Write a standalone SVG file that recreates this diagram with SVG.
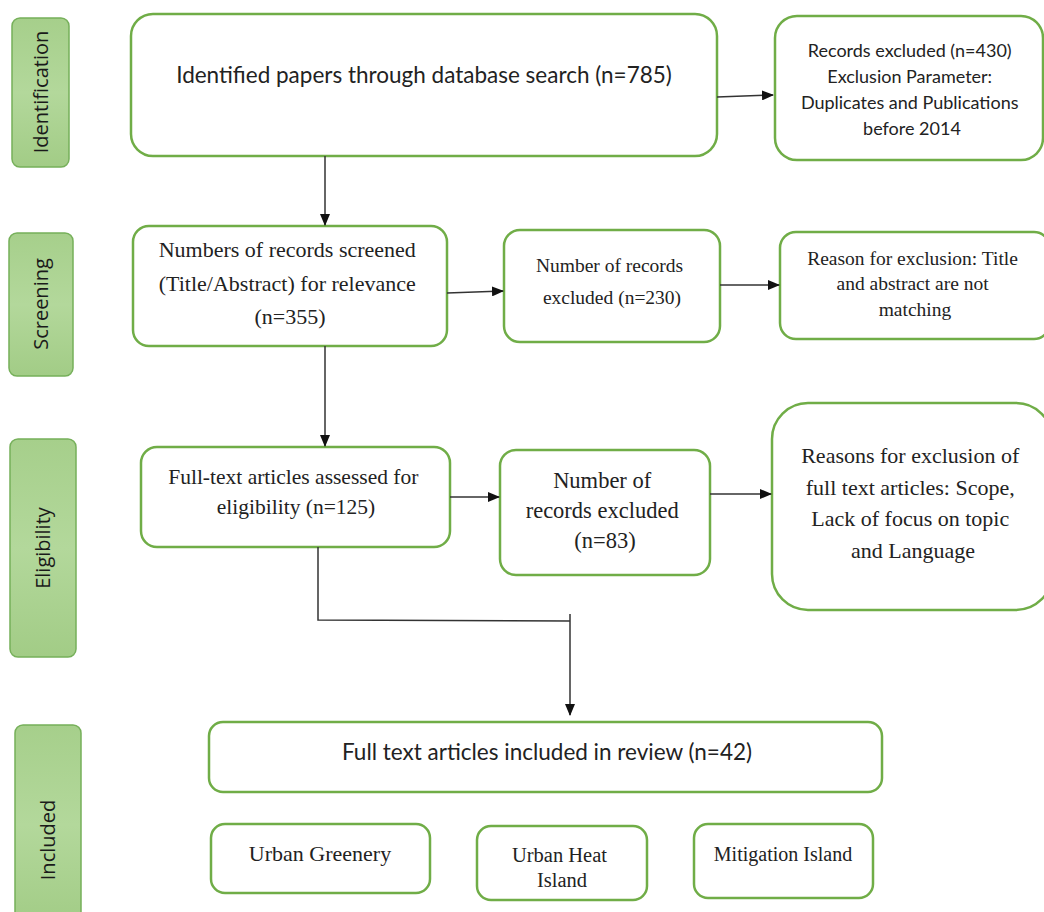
<svg xmlns="http://www.w3.org/2000/svg" width="1044" height="912" viewBox="0 0 1044 912">
<defs>
<linearGradient id="phaseFill" x1="0" y1="0" x2="0" y2="1">
<stop offset="0" stop-color="#a6cf8b"/>
<stop offset="0.5" stop-color="#b3d89b"/>
<stop offset="1" stop-color="#a2cc86"/>
</linearGradient>
<marker id="arrow" markerWidth="12" markerHeight="10" refX="11" refY="5" orient="auto" markerUnits="userSpaceOnUse">
<path d="M0,0 L12,5 L0,10 Z" fill="#111"/>
</marker>
</defs>
<style>
.phase{fill:url(#phaseFill);stroke:#76b05a;stroke-width:1.5}
.box{fill:#fff;stroke:#70ad47;stroke-width:2.5}
.plabel{font-family:"Open Sans","Liberation Sans",sans-serif;font-size:20px;fill:#1a1a1a;text-anchor:middle}
.sans{font-family:Lato,"Liberation Sans",sans-serif;fill:#222;text-anchor:middle}
.serif{font-family:"Liberation Serif","Times New Roman",serif;fill:#222;text-anchor:middle}
.conn{fill:none;stroke:#333;stroke-width:1.5}
</style>
<rect width="1044" height="912" fill="#fff"/>

<g id="phase-identification">
<rect class="phase" x="12" y="18" width="57" height="149" rx="8"/>
<text class="plabel" transform="translate(48,92) rotate(-90)">Identification</text>
</g>
<g id="phase-screening">
<rect class="phase" x="9" y="233" width="64" height="143" rx="8"/>
<text class="plabel" transform="translate(48,304) rotate(-90)">Screening</text>
</g>
<g id="phase-eligibility">
<rect class="phase" x="10" y="439" width="66" height="218" rx="8"/>
<text class="plabel" transform="translate(50,548) rotate(-90)">Eligibility</text>
</g>
<g id="phase-included">
<rect class="phase" x="15" y="725" width="66" height="200" rx="8"/>
<text class="plabel" transform="translate(55,840) rotate(-90)">Included</text>
</g>

<g id="identified">
<rect class="box" x="131" y="14" width="586" height="142" rx="22"/>
<text class="sans" x="424" y="83" font-size="22.5">Identified papers through database search (n=785)</text>
</g>
<g id="records-excluded-430">
<rect class="box" x="775" y="16" width="268" height="144" rx="22"/>
<text class="sans" font-size="18">
<tspan x="912" y="57">Records excluded (n=430)</tspan>
<tspan x="912" y="83">Exclusion Parameter:</tspan>
<tspan x="912" y="109">Duplicates and Publications</tspan>
<tspan x="912" y="135">before 2014</tspan>
</text>
</g>

<g id="screened">
<rect class="box" x="133" y="226" width="314" height="120" rx="16"/>
<text class="serif" font-size="22">
<tspan x="290" y="257">Numbers of records screened</tspan>
<tspan x="290" y="291">(Title/Abstract) for relevance</tspan>
<tspan x="290" y="324">(n=355)</tspan>
</text>
</g>
<g id="excluded-230">
<rect class="box" x="504" y="230" width="216" height="112" rx="16"/>
<text class="serif" font-size="19.5">
<tspan x="612" y="272">Number of records</tspan>
<tspan x="612" y="304">excluded (n=230)</tspan>
</text>
</g>
<g id="reason-exclusion">
<rect class="box" x="780" y="232" width="270" height="107" rx="16"/>
<text class="serif" font-size="19.5">
<tspan x="915" y="265">Reason for exclusion: Title</tspan>
<tspan x="915" y="290">and abstract are not</tspan>
<tspan x="915" y="316">matching</tspan>
</text>
</g>

<g id="fulltext-assessed">
<rect class="box" x="141" y="447" width="309" height="100" rx="16"/>
<text class="serif" font-size="21.5">
<tspan x="296" y="484">Full-text articles assessed for</tspan>
<tspan x="296" y="514">eligibility (n=125)</tspan>
</text>
</g>
<g id="excluded-83">
<rect class="box" x="500" y="450" width="210" height="125" rx="16"/>
<text class="serif" font-size="22.5">
<tspan x="605" y="488">Number of</tspan>
<tspan x="605" y="518">records excluded</tspan>
<tspan x="605" y="548">(n=83)</tspan>
</text>
</g>
<g id="reasons-fulltext">
<rect class="box" x="772" y="403" width="280" height="207" rx="36"/>
<text class="serif" font-size="22">
<tspan x="913" y="463">Reasons for exclusion of</tspan>
<tspan x="913" y="495">full text articles: Scope,</tspan>
<tspan x="913" y="526">Lack of focus on topic</tspan>
<tspan x="913" y="558">and Language</tspan>
</text>
</g>

<g id="included-review">
<rect class="box" x="209" y="722" width="673" height="70" rx="14"/>
<text class="sans" x="547" y="760" font-size="22.5">Full text articles included in review (n=42)</text>
</g>
<g id="urban-greenery">
<rect class="box" x="211" y="824" width="219" height="69" rx="14"/>
<text class="serif" x="320" y="861" font-size="22">Urban Greenery</text>
</g>
<g id="urban-heat-island">
<rect class="box" x="477" y="826" width="170" height="74" rx="14"/>
<text class="serif" font-size="20.5">
<tspan x="562" y="862">Urban Heat</tspan>
<tspan x="562" y="887">Island</tspan>
</text>
</g>
<g id="mitigation-island">
<rect class="box" x="694" y="824" width="179" height="74" rx="14"/>
<text class="serif" x="783" y="861" font-size="20">Mitigation Island</text>
</g>

<g id="connectors">
<line class="conn" x1="717" y1="97" x2="773" y2="95" marker-end="url(#arrow)"/>
<line class="conn" x1="325" y1="156" x2="325" y2="225" marker-end="url(#arrow)"/>
<line class="conn" x1="447" y1="293" x2="503" y2="291" marker-end="url(#arrow)"/>
<line class="conn" x1="720" y1="285" x2="779" y2="285" marker-end="url(#arrow)"/>
<line class="conn" x1="325" y1="346" x2="325" y2="446" marker-end="url(#arrow)"/>
<line class="conn" x1="450" y1="497" x2="499" y2="497" marker-end="url(#arrow)"/>
<line class="conn" x1="710" y1="494" x2="771" y2="494" marker-end="url(#arrow)"/>
<polyline class="conn" points="318,547 318,620 570,621"/>
<line class="conn" x1="570" y1="614" x2="570" y2="715" marker-end="url(#arrow)"/>
</g>
</svg>
